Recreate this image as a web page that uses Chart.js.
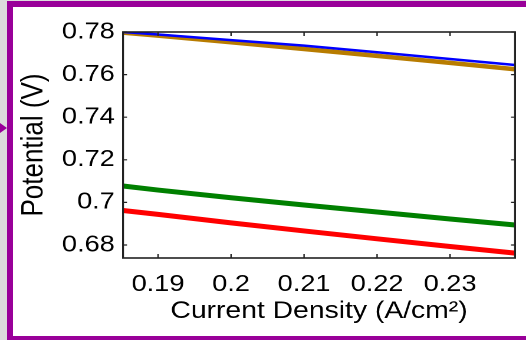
<!DOCTYPE html>
<html><head><meta charset="utf-8">
<script src="https://cdn.jsdelivr.net/npm/chart.js@4.4.1/dist/chart.umd.min.js"></script>
<style>
html,body{margin:0;padding:0;background:#fff;width:526px;height:340px;overflow:hidden;}
#wrap{position:absolute;left:0;top:0;width:446px;height:340px;transform:scaleX(1.1794);transform-origin:0 0;}
.g{position:absolute;background:#dcdcdc}
.p{position:absolute;background:#990099}
#tri{position:absolute;left:0;top:123px;width:0;height:0;border-top:5.5px solid transparent;border-bottom:5.5px solid transparent;border-left:7px solid #990099;}
</style></head><body>
<div id="wrap"><canvas id="c" width="446" height="340"></canvas></div>
<div class="g" style="left:0;top:0;width:7px;height:340px"></div>
<div class="g" style="left:0;top:0;width:526px;height:1px"></div>
<div class="p" style="left:7px;top:1px;width:6px;height:339px"></div>
<div class="p" style="left:7px;top:1px;width:519px;height:6px"></div>
<div class="p" style="left:7px;top:336px;width:519px;height:4px"></div>
<div id="tri"></div>
<script>
// Data
const currentDensity = [0.1852, 0.19, 0.20, 0.21, 0.22, 0.23, 0.2389];
const bluePotential  = [0.7800, 0.7788, 0.7762, 0.7736, 0.7705, 0.7673, 0.7645];
const brownPotential = [0.7797, 0.7783, 0.7752, 0.7720, 0.7688, 0.7655, 0.7625];
const greenPotential = [0.7077, 0.7058, 0.7022, 0.6988, 0.6955, 0.6922, 0.6894];
const redPotential   = [0.6962, 0.6944, 0.6904, 0.6866, 0.6829, 0.6793, 0.6762];
const xTickValues = [0.19, 0.20, 0.21, 0.22, 0.23];
const xTickLabels = ['0.19', '0.2', '0.21', '0.22', '0.23'];
const yTickValues = [0.68, 0.70, 0.72, 0.74, 0.76, 0.78];
const yTickLabels = ['0.68', '0.7', '0.72', '0.74', '0.76', '0.78'];

Chart.defaults.font.family = "'Liberation Sans', Arial, Helvetica, sans-serif";
Chart.defaults.color = '#000';

const pts = arr => currentDensity.map((x, i) => ({x: x, y: arr[i]}));
const ds = (arr, color, w) => ({data: pts(arr), borderColor: color, borderWidth: w, pointRadius: 0, tension: 0, fill: false, borderCapStyle: 'butt', borderJoinStyle: 'round'});

const framePlugin = {
  id: 'frame',
  afterDatasetsDraw(chart) {
    const {ctx, chartArea: a, scales: {x, y}} = chart;
    ctx.save();
    ctx.strokeStyle = '#222';
    ctx.lineWidth = 1.6;
    ctx.strokeRect(a.left, a.top, a.right - a.left, a.bottom - a.top);
    ctx.lineWidth = 1.2;
    ctx.beginPath();
    x.ticks.forEach(t => { const px = x.getPixelForValue(t.value);
      ctx.moveTo(px, a.bottom); ctx.lineTo(px, a.bottom - 4);
      ctx.moveTo(px, a.top); ctx.lineTo(px, a.top + 4); });
    y.ticks.forEach(t => { const py = y.getPixelForValue(t.value);
      ctx.moveTo(a.left, py); ctx.lineTo(a.left + 3.4, py);
      ctx.moveTo(a.right, py); ctx.lineTo(a.right - 3.4, py); });
    ctx.stroke();
    ctx.restore();
  }
};

new Chart(document.getElementById('c'), {
  type: 'line',
  data: { datasets: [
    ds(bluePotential, '#0000ff', 2.5),
    ds(brownPotential, '#b87c00', 4.5),
    ds(greenPotential, '#008000', 5),
    ds(redPotential, '#ff0000', 5)
  ]},
  options: {
    responsive: false, animation: false, devicePixelRatio: 2,
    layout: {padding: {left: 0, top: 32, right: 9.3, bottom: 0}},
    plugins: {legend: {display: false}, tooltip: {enabled: false}},
    scales: {
      x: {
        type: 'linear', min: 0.1852, max: 0.2389,
        afterBuildTicks: s => { s.ticks = xTickValues.map(v => ({value: v})); },
        afterFit: s => { s.height = 82; },
        grid: {display: false, drawTicks: false}, border: {display: false},
        ticks: {font: {size: 23}, padding: 13, maxRotation: 0, autoSkip: false,
          callback: (v, i) => xTickLabels[i]},
        title: {display: true, text: 'Current Density (A/cm²)', font: {size: 24}, padding: {top: 0, bottom: 14}}
      },
      y: {
        type: 'linear', min: 0.6739, max: 0.78,
        afterBuildTicks: s => { s.ticks = yTickValues.map(v => ({value: v})); },
        afterFit: s => { s.width = 104.3; },
        grid: {display: false, drawTicks: false}, border: {display: false},
        ticks: {font: {size: 23}, padding: 7, autoSkip: false,
          callback: (v, i) => yTickLabels[i]},
        title: {display: true, text: 'Potential (V)', font: {size: 26}, padding: {top: 13, bottom: 0}}
      }
    }
  },
  plugins: [framePlugin]
});
</script>
</body></html>
